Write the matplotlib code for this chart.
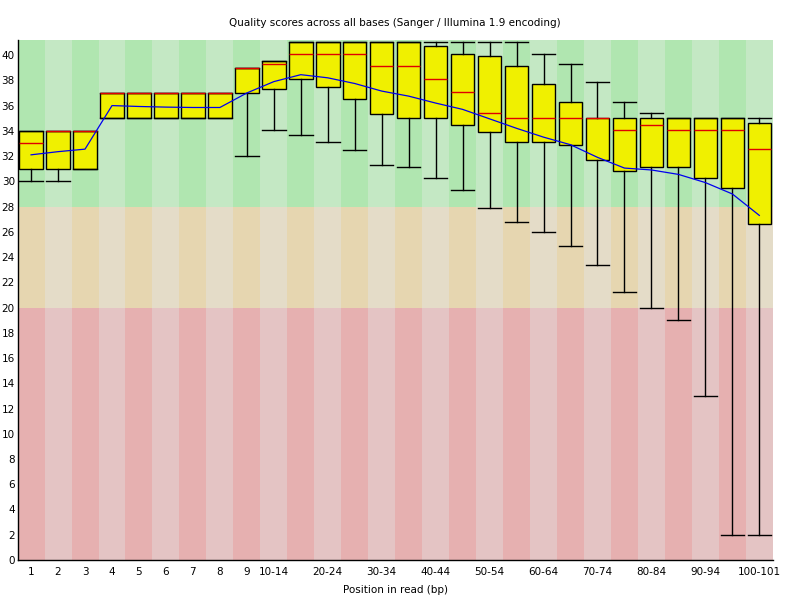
import matplotlib
matplotlib.use("Agg")
import matplotlib.pyplot as plt

# bins along the read
positions = ["1", "2", "3", "4", "5", "6", "7", "8", "9",
             "10-14", "15-19", "20-24", "25-29", "30-34", "35-39", "40-44",
             "45-49", "50-54", "55-59", "60-64", "65-69", "70-74", "75-79",
             "80-84", "85-89", "90-94", "95-99", "100-101"]
shown_labels = ["1", "2", "3", "4", "5", "6", "7", "8", "9", "10-14", "20-24",
                "30-34", "40-44", "50-54", "60-64", "70-74", "80-84", "90-94",
                "100-101"]

# per-bin quality stats
whisker_low = [30, 30, 31, 35, 35, 35, 35, 35, 32, 34.1, 33.7, 33.1, 32.45, 31.3,
               31.1, 30.3, 29.3, 27.9, 26.8, 26.0, 24.85, 23.4, 21.2, 20.0, 19.0,
               13.0, 2.0, 2.0]
box_low = [31, 31, 31, 35, 35, 35, 35, 35, 37, 37.3, 38.1, 37.5, 36.5, 35.3,
           35.05, 35.05, 34.5, 33.9, 33.1, 33.1, 32.9, 31.65, 30.85, 31.1, 31.1,
           30.3, 29.45, 26.6]
medians = [33, 34, 34, 37, 37, 37, 37, 37, 39, 39.3, 40.1, 40.1, 40.1, 39.1,
           39.1, 38.1, 37.1, 35.45, 35.05, 35.05, 35.05, 35.05, 34.1, 34.5, 34.1,
           34.1, 34.1, 32.6]
box_high = [34, 34, 34, 37, 37, 37, 37, 37, 39, 39.5, 41, 41, 41, 41,
            41, 40.7, 40.1, 39.9, 39.1, 37.7, 36.3, 35.05, 35.05, 35.05, 35.05,
            35.05, 35.05, 34.6]
whisker_high = [34, 34, 34, 37, 37, 37, 37, 37, 39, 39.5, 41, 41, 41, 41,
                41, 41, 41, 41, 41, 40.1, 39.3, 37.9, 36.3, 35.45, 35.05, 35.05,
                35.05, 35.05]
means = [32.1, 32.35, 32.55, 36.0, 35.93, 35.88, 35.85, 35.85, 37.0, 37.9, 38.45,
         38.2, 37.75, 37.15, 36.75, 36.2, 35.7, 34.95, 34.2, 33.5, 32.9, 31.9,
         31.05, 30.9, 30.55, 29.9, 29.0, 27.3]

# background bands: (low, high, dark colour, light colour)
bands = [(0, 20, "#e6b0b0", "#e4c4c4"),
         (20, 28, "#e6d6b0", "#e4dcc8"),
         (28, 41.2, "#b0e6b0", "#c4e8c4")]

fig = plt.figure(figsize=(8, 6), dpi=100)
ax = fig.add_axes([0.022, 0.0667, 0.944, 0.8667])

x = list(range(1, len(positions) + 1))

for i in x:
    for lo, hi, dark, light in bands:
        ax.bar(i, hi - lo, bottom=lo, width=1.0,
               color=dark if i % 2 == 1 else light, linewidth=0, zorder=0)

stats = []
for i in range(len(positions)):
    stats.append({"med": medians[i], "q1": box_low[i], "q3": box_high[i],
                  "whislo": whisker_low[i], "whishi": whisker_high[i],
                  "fliers": []})

ax.bxp(stats, positions=x, widths=0.87, capwidths=0.87, patch_artist=True,
       showfliers=False,
       boxprops=dict(facecolor="#f0f000", edgecolor="black", linewidth=1.0),
       medianprops=dict(color="#e00000", linewidth=1.0),
       whiskerprops=dict(color="black", linewidth=1.0),
       capprops=dict(color="black", linewidth=1.0),
       zorder=2)

ax.plot(x, means, color="#0000ee", linewidth=0.9, zorder=3)

ax.set_xlim(0.5, len(positions) + 0.5)
ax.set_ylim(0, 41.2)
ax.set_yticks(range(0, 41, 2))
ax.set_xticks([x[positions.index(p)] for p in shown_labels])
ax.set_xticklabels(shown_labels)
ax.tick_params(length=0, labelsize=7.5)
ax.tick_params(axis="x", pad=5)
ax.tick_params(axis="y", pad=2)

for side in ["top", "right"]:
    ax.spines[side].set_visible(False)
for side in ["left", "bottom"]:
    ax.spines[side].set_linewidth(1.0)
    ax.spines[side].set_zorder(4)

ax.set_title("Quality scores across all bases (Sanger / Illumina 1.9 encoding)",
             fontsize=7.5, pad=10)
ax.set_xlabel("Position in read (bp)", fontsize=7.5, labelpad=6)

fig.savefig("out.png", dpi=100)
